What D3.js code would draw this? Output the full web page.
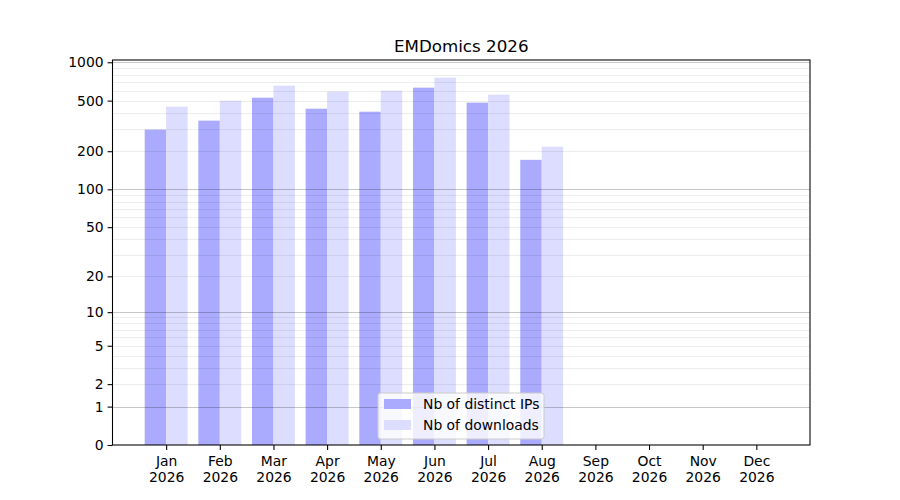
<!DOCTYPE html>
<html>
<head>
<meta charset="utf-8">
<script src="https://cdn.jsdelivr.net/npm/d3@7"></script>
<style>
  body { margin: 0; background: #fff; }
  svg { display: block; font-family: "DejaVu Sans", sans-serif; }
</style>
</head>
<body>
<svg id="chart" width="900" height="500"></svg>
<script>
const months = ["Jan","Feb","Mar","Apr","May","Jun","Jul","Aug","Sep","Oct","Nov","Dec"];
const year = "2026";
const distinctIPs = [296, 348, 527, 432, 409, 632, 482, 171, null, null, null, null];
const downloads  = [448, 499, 655, 588, 599, 757, 557, 217, null, null, null, null];
const yTicks = [0, 1, 2, 5, 10, 20, 50, 100, 200, 500, 1000];
const majorGrid = [1, 10, 100, 1000];
const minorGrid = [2,3,4,5,6,7,8,9,20,30,40,50,60,70,80,90,200,300,400,500,600,700,800,900];
const title = "EMDomics 2026";
const seriesNames = ["Nb of distinct IPs", "Nb of downloads"];
const colors = ["#aaaaff", "#ddddff"];

const svg = d3.select("#chart");
const L = 112.5, R = 810, T = 60, B = 445;
const FS = "13.9px";

const x = d3.scaleLinear().domain([-1, 12]).range([L, R]);
const y = d3.scaleSymlog().constant(1).domain([0, 1042]).range([B, T]);
const bw = 0.4;

// bars
const g = svg.append("g");
g.selectAll("rect.ip").data(distinctIPs.map((v,i)=>({v,i})).filter(d=>d.v!=null))
  .enter().append("rect")
  .attr("x", d => x(d.i - bw)).attr("width", d => x(d.i) - x(d.i - bw))
  .attr("y", d => y(d.v)).attr("height", d => B - y(d.v))
  .attr("fill", colors[0]);
g.selectAll("rect.dl").data(downloads.map((v,i)=>({v,i})).filter(d=>d.v!=null))
  .enter().append("rect")
  .attr("x", d => x(d.i)).attr("width", d => x(d.i + bw) - x(d.i))
  .attr("y", d => y(d.v)).attr("height", d => B - y(d.v))
  .attr("fill", colors[1]);

// grid (on top)
svg.append("g").selectAll("line").data(minorGrid).enter().append("line")
  .attr("x1", L).attr("x2", R)
  .attr("y1", d => Math.round(y(d)) + 0.5).attr("y2", d => Math.round(y(d)) + 0.5)
  .attr("stroke", "#000").attr("stroke-opacity", 0.07).attr("stroke-width", 1);
svg.append("g").selectAll("line").data(majorGrid).enter().append("line")
  .attr("x1", L).attr("x2", R)
  .attr("y1", d => Math.round(y(d)) + 0.5).attr("y2", d => Math.round(y(d)) + 0.5)
  .attr("stroke", "#000").attr("stroke-opacity", 0.22).attr("stroke-width", 1);

// axes
const yAxis = d3.axisLeft(y).tickValues(yTicks).tickFormat(d3.format("d")).tickSizeOuter(0).tickSize(4.9).tickPadding(4);
const ya = svg.append("g").attr("transform", `translate(${L},0)`).call(yAxis);
ya.select(".domain").remove();
ya.selectAll("text").attr("font-size", FS).attr("fill", "#000").attr("font-family", "DejaVu Sans");
ya.selectAll("line").attr("stroke", "#000").attr("stroke-width", 1.07);

const xAxis = d3.axisBottom(x).tickValues(d3.range(12)).tickFormat(() => "").tickSizeOuter(0).tickSize(4.9);
const xa = svg.append("g").attr("transform", `translate(0,${B})`).call(xAxis);
xa.select(".domain").remove();
xa.selectAll("line").attr("stroke", "#000").attr("stroke-width", 1.07);
xa.selectAll(".tick").each(function(d) {
  const t = d3.select(this).append("text").attr("fill", "#000")
    .attr("font-size", FS).attr("text-anchor", "middle").attr("font-family", "DejaVu Sans");
  t.append("tspan").attr("x", 0).attr("y", 21).text(months[d]);
  t.append("tspan").attr("x", 0).attr("y", 37).text(year);
});

// frame
svg.append("rect").attr("x", L).attr("y", T).attr("width", R - L).attr("height", B - T)
  .attr("fill", "none").attr("stroke", "#000").attr("stroke-width", 1.07);

// title
svg.append("text").attr("x", (L + R) / 2).attr("y", 52).attr("text-anchor", "middle")
  .attr("font-size", "16.7px").attr("fill", "#000").text(title);

// legend
const lg = svg.append("g");
const lx = 378, ly = 393, lw = 166, lh = 46;
lg.append("rect").attr("x", lx).attr("y", ly).attr("width", lw).attr("height", lh)
  .attr("rx", 2.5).attr("fill", "#fff").attr("fill-opacity", 0.8)
  .attr("stroke", "#cccccc").attr("stroke-width", 1);
seriesNames.forEach((name, i) => {
  lg.append("rect").attr("x", lx + 6).attr("y", ly + 6 + i * 21).attr("width", 27).attr("height", 10)
    .attr("fill", colors[i]);
  lg.append("text").attr("x", lx + 45).attr("y", ly + 16 + i * 21)
    .attr("font-size", FS).attr("fill", "#000").text(name);
});
</script>
</body>
</html>
